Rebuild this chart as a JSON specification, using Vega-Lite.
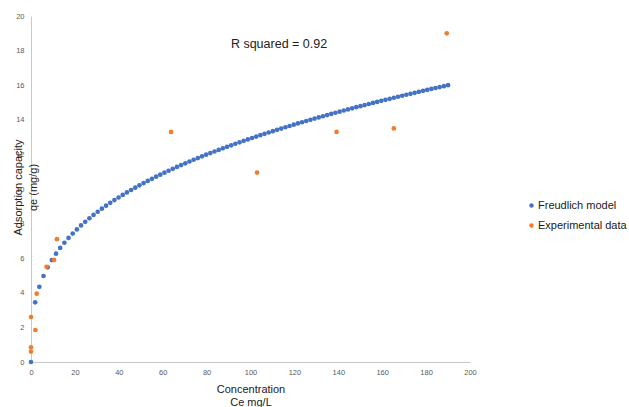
{
  "$schema": "https://vega.github.io/schema/vega-lite/v6.json",
  "width": 439,
  "height": 346,
  "autosize": {"type": "none"},
  "padding": {"left": 31, "top": 16, "right": 159, "bottom": 45},
  "background": "white",
  "config": {
    "view": {"stroke": null},
    "font": "Liberation Sans",
    "axis": {
      "grid": false,
      "ticks": false,
      "domainColor": "#c8c8c8",
      "domainWidth": 1,
      "labelColor": "#595959",
      "labelFontSize": 7.5,
      "labelFont": "Liberation Sans",
      "labelFlush": false,
      "labelOverlap": false,
      "labelBound": false,
      "titleFont": "Liberation Sans",
      "titleFontWeight": "normal",
      "titleColor": "#222222",
      "titleFontSize": 11
    },
    "legend": {
      "labelFont": "Liberation Sans",
      "labelFontSize": 11,
      "labelColor": "#1a1a1a"
    }
  },
  "encoding": {
    "x": {
      "field": "Ce",
      "type": "quantitative",
      "scale": {"domain": [0, 200], "nice": false},
      "axis": {
        "values": [0, 20, 40, 60, 80, 100, 120, 140, 160, 180, 200],
        "labelPadding": 6,
        "labelOverlap": false,
        "title": ["Concentration", "Ce mg/L"],
        "titleBaseline": "top",
        "titleY": 21,
        "titleLineHeight": 13
      }
    },
    "y": {
      "field": "qe",
      "type": "quantitative",
      "scale": {"domain": [0, 20], "nice": false},
      "axis": {
        "values": [0, 2, 4, 6, 8, 10, 12, 14, 16, 18, 20],
        "labelPadding": 7,
        "labelOverlap": false,
        "title": ["Adsorption capacity", "qe (mg/g)"],
        "titleBaseline": "top",
        "titleAngle": -90,
        "titleAlign": "center",
        "titleX": -19,
        "titleY": 171,
        "titleLineHeight": 15
      }
    }
  },
  "layer": [
    {
      "data": {
        "values": [
          {"Ce": 0, "qe": 0, "series": "Freudlich model"},
          {"Ce": 1.9, "qe": 3.447, "series": "Freudlich model"},
          {"Ce": 3.8, "qe": 4.343, "series": "Freudlich model"},
          {"Ce": 5.7, "qe": 4.971, "series": "Freudlich model"},
          {"Ce": 7.6, "qe": 5.472, "series": "Freudlich model"},
          {"Ce": 9.5, "qe": 5.894, "series": "Freudlich model"},
          {"Ce": 11.4, "qe": 6.264, "series": "Freudlich model"},
          {"Ce": 13.3, "qe": 6.594, "series": "Freudlich model"},
          {"Ce": 15.2, "qe": 6.894, "series": "Freudlich model"},
          {"Ce": 17.1, "qe": 7.170, "series": "Freudlich model"},
          {"Ce": 19.0, "qe": 7.426, "series": "Freudlich model"},
          {"Ce": 20.9, "qe": 7.666, "series": "Freudlich model"},
          {"Ce": 22.8, "qe": 7.892, "series": "Freudlich model"},
          {"Ce": 24.7, "qe": 8.105, "series": "Freudlich model"},
          {"Ce": 26.6, "qe": 8.308, "series": "Freudlich model"},
          {"Ce": 28.5, "qe": 8.501, "series": "Freudlich model"},
          {"Ce": 30.4, "qe": 8.686, "series": "Freudlich model"},
          {"Ce": 32.3, "qe": 8.863, "series": "Freudlich model"},
          {"Ce": 34.2, "qe": 9.034, "series": "Freudlich model"},
          {"Ce": 36.1, "qe": 9.198, "series": "Freudlich model"},
          {"Ce": 38.0, "qe": 9.357, "series": "Freudlich model"},
          {"Ce": 39.9, "qe": 9.510, "series": "Freudlich model"},
          {"Ce": 41.8, "qe": 9.659, "series": "Freudlich model"},
          {"Ce": 43.7, "qe": 9.803, "series": "Freudlich model"},
          {"Ce": 45.6, "qe": 9.943, "series": "Freudlich model"},
          {"Ce": 47.5, "qe": 10.079, "series": "Freudlich model"},
          {"Ce": 49.4, "qe": 10.212, "series": "Freudlich model"},
          {"Ce": 51.3, "qe": 10.341, "series": "Freudlich model"},
          {"Ce": 53.2, "qe": 10.467, "series": "Freudlich model"},
          {"Ce": 55.1, "qe": 10.590, "series": "Freudlich model"},
          {"Ce": 57.0, "qe": 10.711, "series": "Freudlich model"},
          {"Ce": 58.9, "qe": 10.828, "series": "Freudlich model"},
          {"Ce": 60.8, "qe": 10.944, "series": "Freudlich model"},
          {"Ce": 62.7, "qe": 11.056, "series": "Freudlich model"},
          {"Ce": 64.6, "qe": 11.167, "series": "Freudlich model"},
          {"Ce": 66.5, "qe": 11.276, "series": "Freudlich model"},
          {"Ce": 68.4, "qe": 11.382, "series": "Freudlich model"},
          {"Ce": 70.3, "qe": 11.486, "series": "Freudlich model"},
          {"Ce": 72.2, "qe": 11.589, "series": "Freudlich model"},
          {"Ce": 74.1, "qe": 11.690, "series": "Freudlich model"},
          {"Ce": 76.0, "qe": 11.789, "series": "Freudlich model"},
          {"Ce": 77.9, "qe": 11.886, "series": "Freudlich model"},
          {"Ce": 79.8, "qe": 11.982, "series": "Freudlich model"},
          {"Ce": 81.7, "qe": 12.076, "series": "Freudlich model"},
          {"Ce": 83.6, "qe": 12.169, "series": "Freudlich model"},
          {"Ce": 85.5, "qe": 12.261, "series": "Freudlich model"},
          {"Ce": 87.4, "qe": 12.351, "series": "Freudlich model"},
          {"Ce": 89.3, "qe": 12.440, "series": "Freudlich model"},
          {"Ce": 91.2, "qe": 12.527, "series": "Freudlich model"},
          {"Ce": 93.1, "qe": 12.614, "series": "Freudlich model"},
          {"Ce": 95.0, "qe": 12.699, "series": "Freudlich model"},
          {"Ce": 96.9, "qe": 12.783, "series": "Freudlich model"},
          {"Ce": 98.8, "qe": 12.866, "series": "Freudlich model"},
          {"Ce": 100.7, "qe": 12.948, "series": "Freudlich model"},
          {"Ce": 102.6, "qe": 13.029, "series": "Freudlich model"},
          {"Ce": 104.5, "qe": 13.109, "series": "Freudlich model"},
          {"Ce": 106.4, "qe": 13.188, "series": "Freudlich model"},
          {"Ce": 108.3, "qe": 13.266, "series": "Freudlich model"},
          {"Ce": 110.2, "qe": 13.343, "series": "Freudlich model"},
          {"Ce": 112.1, "qe": 13.419, "series": "Freudlich model"},
          {"Ce": 114.0, "qe": 13.495, "series": "Freudlich model"},
          {"Ce": 115.9, "qe": 13.569, "series": "Freudlich model"},
          {"Ce": 117.8, "qe": 13.643, "series": "Freudlich model"},
          {"Ce": 119.7, "qe": 13.716, "series": "Freudlich model"},
          {"Ce": 121.6, "qe": 13.788, "series": "Freudlich model"},
          {"Ce": 123.5, "qe": 13.859, "series": "Freudlich model"},
          {"Ce": 125.4, "qe": 13.930, "series": "Freudlich model"},
          {"Ce": 127.3, "qe": 14.000, "series": "Freudlich model"},
          {"Ce": 129.2, "qe": 14.070, "series": "Freudlich model"},
          {"Ce": 131.1, "qe": 14.138, "series": "Freudlich model"},
          {"Ce": 133.0, "qe": 14.206, "series": "Freudlich model"},
          {"Ce": 134.9, "qe": 14.273, "series": "Freudlich model"},
          {"Ce": 136.8, "qe": 14.340, "series": "Freudlich model"},
          {"Ce": 138.7, "qe": 14.406, "series": "Freudlich model"},
          {"Ce": 140.6, "qe": 14.472, "series": "Freudlich model"},
          {"Ce": 142.5, "qe": 14.537, "series": "Freudlich model"},
          {"Ce": 144.4, "qe": 14.601, "series": "Freudlich model"},
          {"Ce": 146.3, "qe": 14.665, "series": "Freudlich model"},
          {"Ce": 148.2, "qe": 14.728, "series": "Freudlich model"},
          {"Ce": 150.1, "qe": 14.790, "series": "Freudlich model"},
          {"Ce": 152.0, "qe": 14.853, "series": "Freudlich model"},
          {"Ce": 153.9, "qe": 14.914, "series": "Freudlich model"},
          {"Ce": 155.8, "qe": 14.975, "series": "Freudlich model"},
          {"Ce": 157.7, "qe": 15.036, "series": "Freudlich model"},
          {"Ce": 159.6, "qe": 15.096, "series": "Freudlich model"},
          {"Ce": 161.5, "qe": 15.156, "series": "Freudlich model"},
          {"Ce": 163.4, "qe": 15.215, "series": "Freudlich model"},
          {"Ce": 165.3, "qe": 15.274, "series": "Freudlich model"},
          {"Ce": 167.2, "qe": 15.332, "series": "Freudlich model"},
          {"Ce": 169.1, "qe": 15.390, "series": "Freudlich model"},
          {"Ce": 171.0, "qe": 15.447, "series": "Freudlich model"},
          {"Ce": 172.9, "qe": 15.504, "series": "Freudlich model"},
          {"Ce": 174.8, "qe": 15.561, "series": "Freudlich model"},
          {"Ce": 176.7, "qe": 15.617, "series": "Freudlich model"},
          {"Ce": 178.6, "qe": 15.673, "series": "Freudlich model"},
          {"Ce": 180.5, "qe": 15.728, "series": "Freudlich model"},
          {"Ce": 182.4, "qe": 15.783, "series": "Freudlich model"},
          {"Ce": 184.3, "qe": 15.838, "series": "Freudlich model"},
          {"Ce": 186.2, "qe": 15.892, "series": "Freudlich model"},
          {"Ce": 188.1, "qe": 15.946, "series": "Freudlich model"},
          {"Ce": 190.0, "qe": 16.000, "series": "Freudlich model"},
          {"Ce": 0, "qe": 0.6, "series": "Experimental data"},
          {"Ce": 0, "qe": 0.85, "series": "Experimental data"},
          {"Ce": 0, "qe": 2.6, "series": "Experimental data"},
          {"Ce": 2.0, "qe": 1.85, "series": "Experimental data"},
          {"Ce": 2.6, "qe": 3.95, "series": "Experimental data"},
          {"Ce": 7.1, "qe": 5.5, "series": "Experimental data"},
          {"Ce": 10.5, "qe": 5.9, "series": "Experimental data"},
          {"Ce": 11.8, "qe": 7.1, "series": "Experimental data"},
          {"Ce": 63.8, "qe": 13.3, "series": "Experimental data"},
          {"Ce": 103.0, "qe": 10.95, "series": "Experimental data"},
          {"Ce": 139.2, "qe": 13.3, "series": "Experimental data"},
          {"Ce": 165.3, "qe": 13.5, "series": "Experimental data"},
          {"Ce": 189.4, "qe": 19.0, "series": "Experimental data"}
        ]
      },
      "mark": {"type": "point", "filled": true, "opacity": 1, "size": 22},
      "encoding": {
        "color": {
          "field": "series",
          "type": "nominal",
          "scale": {
            "domain": ["Freudlich model", "Experimental data"],
            "range": ["#4472C4", "#ED7D31"]
          },
          "legend": {
            "title": null,
            "orient": "none",
            "legendX": 495,
            "legendY": 184,
            "symbolSize": 20,
            "symbolType": "circle",
            "rowPadding": 8,
            "labelOffset": 1,
            "padding": 0
          }
        }
      }
    },
    {
      "data": {"values": [{"Ce": 113, "qe": 18.4, "label": "R squared = 0.92"}]},
      "mark": {"type": "text", "font": "Liberation Sans", "fontSize": 12.5, "color": "#222222", "align": "center", "baseline": "middle"},
      "encoding": {
        "text": {"field": "label"}
      }
    }
  ]
}
